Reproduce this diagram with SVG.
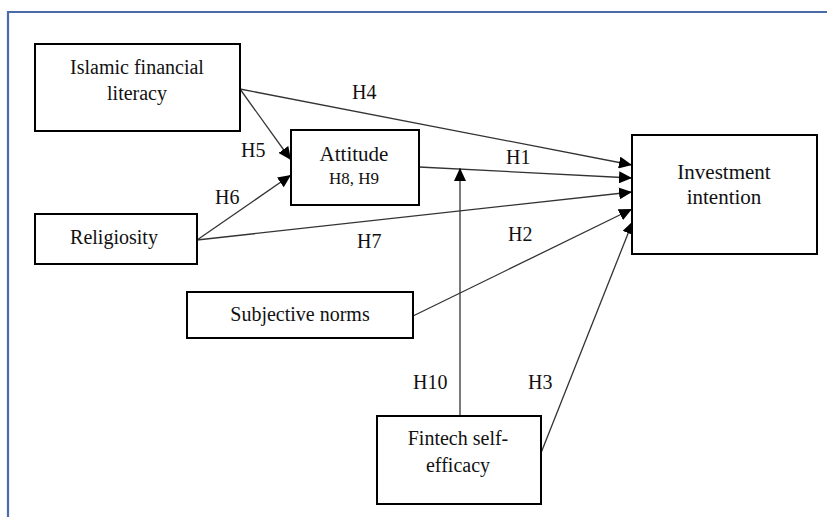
<svg xmlns="http://www.w3.org/2000/svg" width="827" height="517" viewBox="0 0 827 517">
<style>
.box{fill:#fff;stroke:#000;stroke-width:2}
.t{font-family:"Liberation Serif","Times New Roman",serif;font-size:20px;fill:#111;text-anchor:middle}
.lbl{font-family:"Liberation Serif","Times New Roman",serif;font-size:20px;fill:#111}
.c{stroke:#333;stroke-width:1.3;fill:none;marker-end:url(#ah)}
</style>
<defs>
<marker id="ah" markerUnits="userSpaceOnUse" markerWidth="14" markerHeight="12" refX="13" refY="6" orient="auto">
<path d="M0,0 L13,6 L0,12 z" fill="#000"/>
</marker>
</defs>
<rect width="827" height="517" fill="#fff"/>
<path d="M8,517 V12 H827" fill="none" stroke="#4a6aa8" stroke-width="2.2"/>
<g id="connectors">
<line class="c" x1="240" y1="89" x2="632" y2="165"/>
<line class="c" x1="240" y1="89" x2="291" y2="160"/>
<line class="c" x1="419" y1="167" x2="632" y2="178"/>
<line class="c" x1="197" y1="240" x2="291" y2="175"/>
<line class="c" x1="197" y1="240" x2="632" y2="192"/>
<line class="c" x1="413" y1="316" x2="632" y2="209"/>
<line class="c" x1="541" y1="453" x2="633" y2="221"/>
<line class="c" x1="460" y1="416" x2="460" y2="168"/>
</g>
<g id="labels">
<text class="lbl" x="352" y="99">H4</text>
<text class="lbl" x="241" y="157">H5</text>
<text class="lbl" x="506" y="164">H1</text>
<text class="lbl" x="215" y="204">H6</text>
<text class="lbl" x="357" y="248">H7</text>
<text class="lbl" x="508" y="241">H2</text>
<text class="lbl" x="413" y="389">H10</text>
<text class="lbl" x="528" y="389">H3</text>
</g>
<g id="islamic-financial-literacy">
<rect class="box" x="35" y="44" width="205" height="87"/>
<text class="t" x="137" y="74">Islamic financial</text>
<text class="t" x="137" y="100">literacy</text>
</g>
<g id="attitude">
<rect class="box" x="291" y="130" width="128" height="75"/>
<text class="t" x="354" y="161" style="font-size:21px">Attitude</text>
<text class="t" x="354" y="184" style="font-size:17px">H8, H9</text>
</g>
<g id="investment-intention">
<rect class="box" x="632" y="135" width="185" height="119"/>
<text class="t" x="724" y="179" style="font-size:21px">Investment</text>
<text class="t" x="724" y="204" style="font-size:21px">intention</text>
</g>
<g id="religiosity">
<rect class="box" x="35" y="214" width="162" height="50"/>
<text class="t" x="114" y="244">Religiosity</text>
</g>
<g id="subjective-norms">
<rect class="box" x="187" y="292" width="226" height="46"/>
<text class="t" x="300" y="321">Subjective norms</text>
</g>
<g id="fintech-self-efficacy">
<rect class="box" x="377" y="416" width="164" height="88"/>
<text class="t" x="458" y="445">Fintech self-</text>
<text class="t" x="458" y="472">efficacy</text>
</g>
</svg>
